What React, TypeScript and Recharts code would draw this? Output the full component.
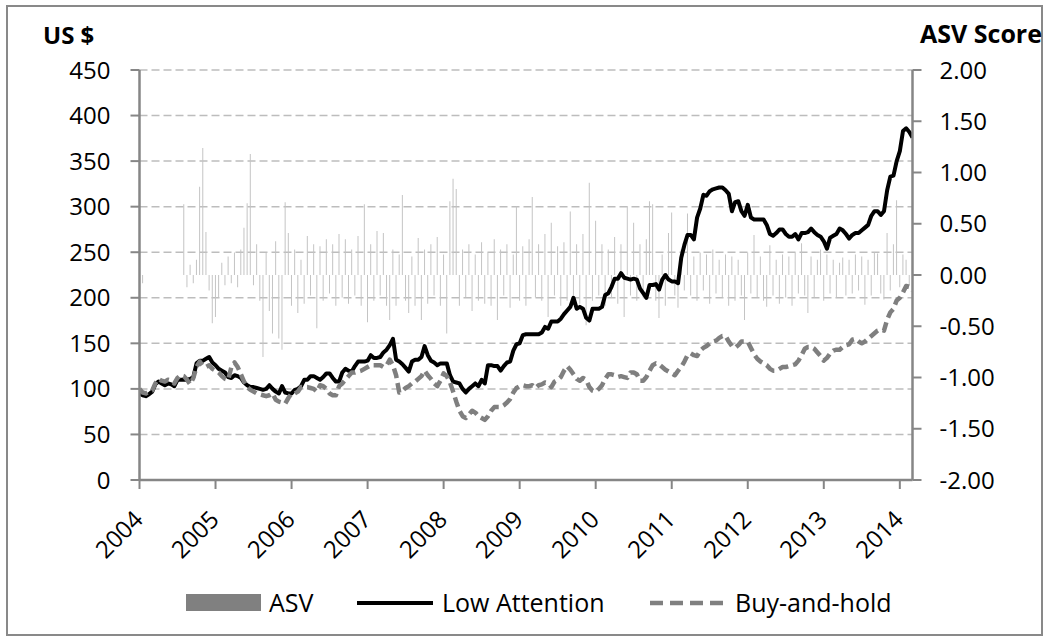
import React from 'react'
import {
  ComposedChart,
  Bar,
  Line,
  XAxis,
  YAxis,
  CartesianGrid,
  Legend,
} from 'recharts'

// x axis: one observation every half month, starting January 2004
const years = [2004, 2005, 2006, 2007, 2008, 2009, 2010, 2011, 2012, 2013, 2014]
const usdTicks = [0, 50, 100, 150, 200, 250, 300, 350, 400, 450]
const scoreTicks = [-2, -1.5, -1, -0.5, 0, 0.5, 1, 1.5, 2]

const lowAttention = [
  95, 93, 92, 94, 97, 105, 108, 106, 104, 106,
  105, 103, 110, 110, 110, 110, 111, 113, 128, 131,
  131, 133, 135, 129, 126, 122, 120, 118, 113, 112,
  115, 114, 112, 107, 104, 102, 102, 101, 100, 99,
  100, 104, 100, 97, 95, 103, 96, 95, 95, 99,
  100, 103, 110, 110, 114, 114, 112, 110, 113, 117,
  117, 112, 108, 108, 118, 122, 120, 119, 125, 130,
  130, 130, 131, 137, 134, 134, 135, 140, 143, 148,
  155, 132, 130, 127, 123, 119, 130, 132, 132, 135,
  147, 137, 131, 129, 126, 128, 128, 128, 115, 108,
  107, 106, 100, 96, 100, 103, 106, 103, 110, 106,
  126, 126, 125, 125, 120, 125, 129, 130, 142, 149,
  150, 159, 160, 160, 160, 160, 160, 162, 168, 166,
  174, 174, 174, 177, 182, 186, 190, 200, 188, 190,
  188, 178, 175, 188, 188, 188, 190, 203, 205, 212,
  221, 221, 227, 222, 221, 220, 221, 220, 210, 205,
  200, 214, 214, 215, 209, 220, 225, 220, 218, 218,
  216, 244, 258, 269, 269, 264, 288, 298, 313, 312,
  317, 319, 320, 321, 321, 318, 314, 295, 305, 306,
  295, 290, 302, 288, 286, 286, 286, 286, 280, 270,
  268, 271, 275, 275, 270, 267, 267, 270, 264, 271,
  271, 272, 276, 272, 269, 267, 262, 254, 266, 268,
  270, 276, 274, 270, 265, 269, 271, 271, 274, 277,
  280, 290, 295, 295, 291, 295, 318, 333, 334, 350,
  361, 383, 386, 382, 376,
]

const buyAndHold = [
  100, 96, 95, 97, 98, 106, 111, 109, 108, 110,
  109, 106, 112, 115, 114, 110, 105, 112, 124, 130,
  125, 124, 126, 122, 120, 118, 114, 111, 110, 124,
  129, 124, 116, 108, 102, 99, 97, 95, 94, 93,
  92, 93, 95, 88, 86, 85, 84, 90, 95, 95,
  97, 102, 102, 102, 101, 100, 97, 104, 103, 100,
  95, 93, 93, 103, 106, 110, 114, 118, 118, 119,
  120, 122, 124, 126, 126, 126, 126, 124, 126, 132,
  126, 115, 96, 98, 101, 103, 106, 108, 111, 114,
  120, 115, 111, 106, 103, 109, 117, 114, 107, 97,
  86, 76, 70, 68, 72, 76, 74, 70, 68, 66,
  70, 76, 80, 80, 80, 82, 85, 89, 96, 101,
  103, 104, 103, 103, 104, 101, 104, 105, 107, 106,
  102, 108, 110, 113, 120, 125, 121, 116, 111, 109,
  112, 110, 102, 98, 97, 100, 104, 111, 116, 116,
  115, 113, 114, 113, 112, 118, 118, 116, 109, 109,
  113, 120, 126, 128, 127, 124, 121, 119, 117, 115,
  120, 124, 130, 137, 139, 137, 136, 142, 145, 147,
  150, 152, 153, 156, 158, 158, 152, 147, 145, 148,
  152, 152, 152, 145, 138, 133, 130, 128, 126, 122,
  120, 120, 122, 124, 124, 125, 126, 127, 131, 137,
  144, 146, 146, 144, 140, 136, 131, 134, 139, 142,
  143, 143, 146, 148, 149, 154, 155, 152, 150, 152,
  155, 158, 161, 164, 165, 164, 176, 184, 188, 197,
  200, 206, 213, 212, 208,
]

const asvScore = [
  0.53, -0.08, null, null, null, null, null, null, null, null,
  null, null, null, null, 0.69, -0.12, 0.1, -0.08, 0.15, 0.86,
  1.24, 0.42, -0.15, -0.47, -0.41, -0.22, 0.12, -0.1, 0.18, -0.08,
  0.22, -0.12, 0.25, 0.46, 0.7, 1.18, -0.1, 0.3, -0.25, -0.8,
  0.22, -0.35, -0.57, 0.33, -0.62, -0.73, 0.71, 0.41, -0.3, 0.25,
  -0.37, 0.15, -0.28, 0.38, -0.2, 0.3, -0.52, 0.28, -0.25, 0.35,
  -0.18, 0.3, -0.3, 0.4, -0.22, 0.35, -0.28, 0.25, -0.2, 0.38,
  -0.3, 0.69, -0.46, 0.3, -0.25, 0.43, -0.2, 0.41, -0.3, -0.44,
  0.25, -0.3, 0.2, 0.78, -0.25, -0.37, 0.18, -0.3, 0.36, -0.44,
  0.25, -0.28, 0.3, -0.2, 0.37, -0.3, 0.2, -0.57, 0.72, 0.94,
  0.84, -0.3, 0.25, -0.22, 0.3, -0.35, 0.2, -0.25, 0.32, -0.28,
  0.22, -0.3, 0.35, -0.44, 0.25, -0.2, 0.3, -0.32, 0.2, 0.67,
  -0.25, 0.28, -0.3, 0.35, 0.76, -0.22, 0.3, -0.25, 0.4, -0.41,
  0.51, -0.2, 0.28, -0.3, 0.32, -0.25, 0.62, -0.2, 0.3, -0.28,
  0.4, -0.49, 0.9, -0.25, 0.53, -0.2, 0.3, -0.3, 0.25, -0.22,
  0.37, -0.28, 0.3, -0.41, 0.67, -0.2, 0.51, -0.25, 0.3, -0.22,
  0.35, 0.72, 0.69, -0.25, -0.42, 0.2, -0.3, 0.41, 0.61, -0.2,
  -0.32, 0.25, -0.15, 0.6, -0.2, 0.18, -0.25, 0.22, -0.15, 0.2,
  -0.28, 0.25, -0.18, 0.15, -0.22, 0.2, -0.3, 0.18, -0.25, 0.15,
  -0.2, -0.44, 0.22, -0.18, 0.39, -0.22, 0.18, -0.25, -0.31, 0.29,
  -0.2, 0.15, -0.28, 0.2, -0.22, 0.18, -0.3, 0.22, -0.18, 0.31,
  -0.2, -0.37, 0.18, -0.22, 0.15, 0.25, -0.25, 0.2, -0.18, 0.15,
  -0.22, 0.12, 0.17, -0.2, 0.15, -0.18, 0.2, -0.15, 0.18, -0.29,
  0.15, -0.2, 0.22, 0.21, -0.18, -0.24, 0.41, -0.15, 0.3, 0.73,
  -0.12, 0.2, 0.15, -0.1, 0.1,
]

const data = lowAttention.map((v, i) => ({
  t: 2004 + i / 24,
  low: v,
  bh: buyAndHold[i],
  asv: asvScore[i],
}))

const FONT = '"Open Sans", sans-serif'
const AXIS = '#868686'

function YearTick({ x, y, payload }: any) {
  return (
    <g transform={`translate(${x + 5},${y + 30})`}>
      <text
        transform="rotate(-45)"
        textAnchor="end"
        fontSize={24}
        fontFamily={FONT}
        fill="#000"
      >
        {payload.value}
      </text>
    </g>
  )
}

const renderLegend = () => (
  <svg width={1051} height={40} style={{ fontFamily: FONT }}>
    <rect x={186} y={9} width={75} height={17} fill="#808080" />
    <text x={269} y={27} fontSize={25} fill="#000">ASV</text>
    <line x1={357} x2={433} y1={18} y2={18} stroke="#000" strokeWidth={4} />
    <text x={442} y={27} fontSize={25} fill="#000">Low Attention</text>
    <line
      x1={650}
      x2={726}
      y1={18}
      y2={18}
      stroke="#808080"
      strokeWidth={4.5}
      strokeDasharray="13 7"
    />
    <text x={735} y={27} fontSize={25} fill="#000">Buy-and-hold</text>
  </svg>
)

export default function App() {
  return (
    <>
      <div
        style={{
          position: 'absolute',
          left: 6,
          top: 5,
          width: 1033,
          height: 627,
          border: '2px solid #898989',
        }}
      />
      <div style={{ position: 'absolute', left: 0, top: 0, fontFamily: FONT }}>
        <ComposedChart
          width={1051}
          height={643}
          data={data}
          margin={{ top: 70, right: 58.5, left: 79.5, bottom: 103 }}
        >
          <CartesianGrid
            yAxisId="usd"
            vertical={false}
            stroke="#bdbdbd"
            strokeWidth={1.5}
            strokeDasharray="8 4"
          />
          <XAxis
            dataKey="t"
            type="number"
            domain={[2004, 2004 + 244 / 24]}
            ticks={years}
            allowDataOverflow
            height={60}
            tickSize={9}
            tickLine={{ stroke: AXIS, strokeWidth: 2 }}
            axisLine={{ stroke: AXIS, strokeWidth: 2.5 }}
            tick={<YearTick />}
            interval={0}
          />
          <YAxis
            yAxisId="usd"
            orientation="left"
            width={60}
            domain={[0, 450]}
            ticks={usdTicks}
            interval={0}
            tickSize={9}
            tickMargin={20}
            tickLine={{ stroke: AXIS, strokeWidth: 2 }}
            axisLine={{ stroke: AXIS, strokeWidth: 2.5 }}
            tick={{ fontSize: 24, fill: '#000', fontFamily: FONT }}
            label={{
              content: () => (
                <text x={43} y={44} fontSize={24} fontWeight="bold" fontFamily={FONT} fill="#000">
                  US $
                </text>
              ),
            }}
          />
          <YAxis
            yAxisId="score"
            orientation="right"
            width={80}
            domain={[-2, 2]}
            ticks={scoreTicks}
            interval={0}
            tickSize={9}
            tickMargin={18}
            tickFormatter={(v: number) => v.toFixed(2)}
            tickLine={{ stroke: AXIS, strokeWidth: 2 }}
            axisLine={{ stroke: AXIS, strokeWidth: 2.5 }}
            tick={{ fontSize: 24, fill: '#000', fontFamily: FONT }}
            label={{
              content: () => (
                <text x={1042} y={43} fontSize={25} fontWeight="bold" textAnchor="end" fontFamily={FONT} fill="#000">
                  ASV Score
                </text>
              ),
            }}
          />
          <Bar
            yAxisId="score"
            dataKey="asv"
            name="ASV"
            fill="#c4c4c4"
            barSize={1}
            isAnimationActive={false}
          />
          <Line
            yAxisId="usd"
            dataKey="low"
            name="Low Attention"
            type="linear"
            stroke="#000"
            strokeWidth={4}
            strokeLinejoin="round"
            dot={false}
            activeDot={false}
            isAnimationActive={false}
          />
          <Line
            yAxisId="usd"
            dataKey="bh"
            name="Buy-and-hold"
            type="linear"
            stroke="#7f7f7f"
            strokeWidth={4.5}
            strokeDasharray="10 5"
            strokeLinejoin="round"
            dot={false}
            activeDot={false}
            isAnimationActive={false}
          />
          <Legend
            verticalAlign="middle"
            align="center"
            wrapperStyle={{ left: 0, top: 585, width: 1051, height: 40 }}
            content={renderLegend}
          />
        </ComposedChart>
      </div>
    </>
  )
}
